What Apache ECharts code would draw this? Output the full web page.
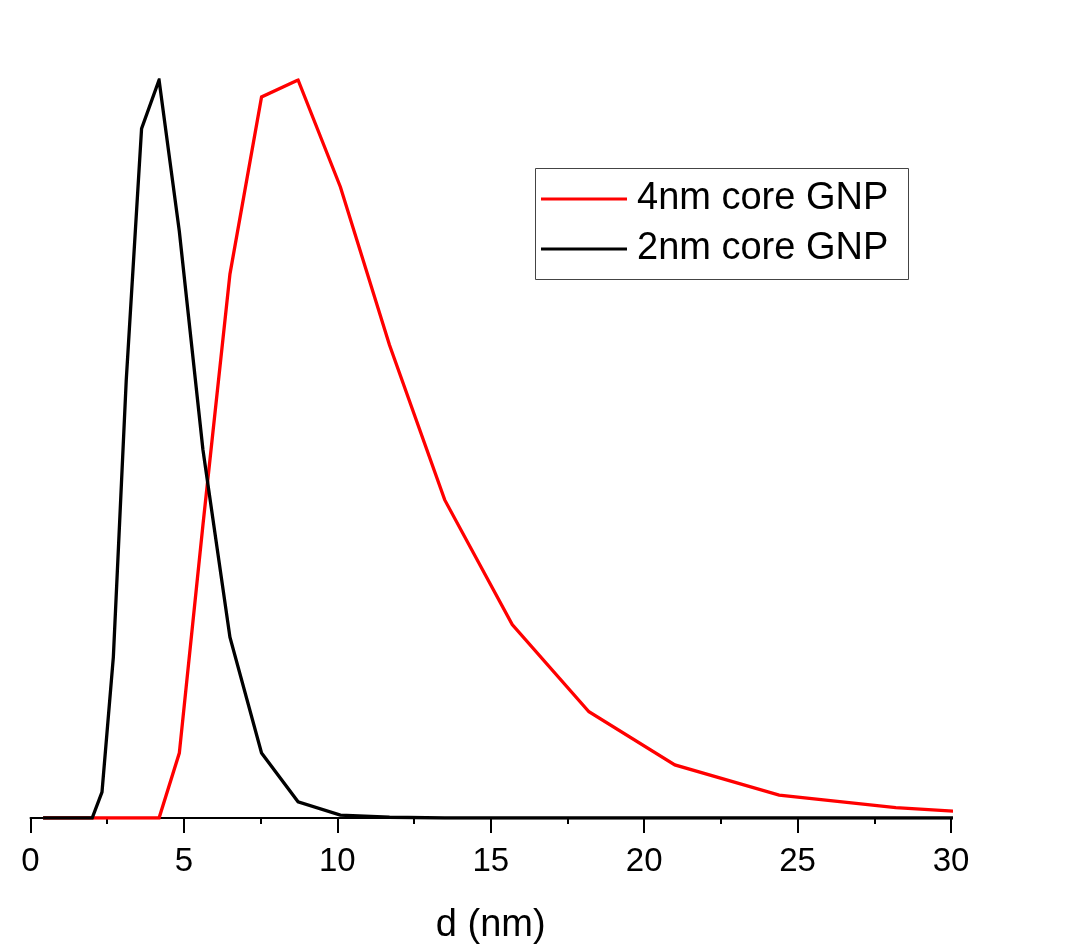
<!DOCTYPE html>
<html>
<head>
<meta charset="utf-8">
<script src="https://cdn.jsdelivr.net/npm/echarts@6/dist/echarts.min.js"></script>
<style>
html,body{margin:0;padding:0;background:#fff;}
#chart{width:1075px;height:944px;}
</style>
</head>
<body>
<div id="chart"></div>
<script>
// Diameter bins (nm)
const diameters = [0.41, 0.46, 0.54, 0.62, 0.72, 0.84, 0.97, 1.12, 1.30, 1.50, 1.74, 2.01,
  2.33, 2.70, 3.12, 3.62, 4.19, 4.85, 5.62, 6.50, 7.53, 8.72, 10.1, 11.7, 13.5, 15.7,
  18.2, 21.0, 24.4, 28.2, 32.7];
// Relative intensity (arbitrary units, peak = 100)
const gnp4nm = [0, 0, 0, 0, 0, 0, 0, 0, 0, 0, 0, 0,
  0, 0, 0, 0, 0, 8.8, 39.7, 73.7, 97.7, 100, 85.5, 64.1, 43.1, 26.2,
  14.4, 7.2, 3.1, 1.4, 0.3];
const gnp2nm = [0, 0, 0, 0, 0, 0, 0, 0, 0, 0, 0, 0,
  3.5, 21.8, 59.3, 93.4, 100, 79.5, 49.9, 24.5, 8.8, 2.2, 0.4, 0.1, 0, 0,
  0, 0, 0, 0, 0];
const seriesNames = ['4nm core GNP', '2nm core GNP'];
const xTicks = [0, 5, 10, 15, 20, 25, 30];

const FONT = '"Liberation Sans", Arial, sans-serif';
const chart = echarts.init(document.getElementById('chart'));

function pairs(xs, ys) { return xs.map((x, i) => [x, ys[i]]); }

chart.setOption({
  animation: false,
  backgroundColor: '#fff',
  grid: { left: 30.5, right: 124, top: 80, bottom: 126, containLabel: false, outerBoundsMode: 'none' },
  xAxis: {
    type: 'value',
    min: xTicks[0], max: xTicks[xTicks.length - 1], interval: 5,
    name: 'd (nm)', nameLocation: 'middle', nameGap: 89,
    nameTextStyle: { fontFamily: FONT, fontSize: 38, color: '#000' },
    axisLine: { lineStyle: { color: '#000', width: 2 } },
    axisTick: { show: true, length: 15, lineStyle: { color: '#000', width: 2 } },
    minorTick: { show: true, splitNumber: 2, length: 6, lineStyle: { color: '#000', width: 2 } },
    axisLabel: { fontFamily: FONT, fontSize: 33, color: '#000', margin: 27 },
    splitLine: { show: false }
  },
  yAxis: { type: 'value', min: 0, max: 100, show: false },
  legend: {
    orient: 'vertical', left: 541, top: 180, padding: 0,
    itemWidth: 86, itemHeight: 3, itemGap: 12, icon: 'rect',
    textStyle: { fontFamily: FONT, fontSize: 38, color: '#000', padding: [0, 0, 0, 5] },
    data: seriesNames
  },
  graphic: [{
    type: 'rect', shape: { x: 535.5, y: 168.5, width: 373, height: 111 },
    style: { fill: 'none', stroke: '#444', lineWidth: 1 }, z: 100
  }],
  series: [
    {
      name: seriesNames[0], type: 'line', data: pairs(diameters, gnp4nm),
      symbol: 'none', color: '#ff0000',
      lineStyle: { color: '#ff0000', width: 3.3, join: 'miter' }
    },
    {
      name: seriesNames[1], type: 'line', data: pairs(diameters, gnp2nm),
      symbol: 'none', color: '#000000',
      lineStyle: { color: '#000000', width: 3.3, join: 'miter' }
    }
  ]
});
</script>
</body>
</html>
